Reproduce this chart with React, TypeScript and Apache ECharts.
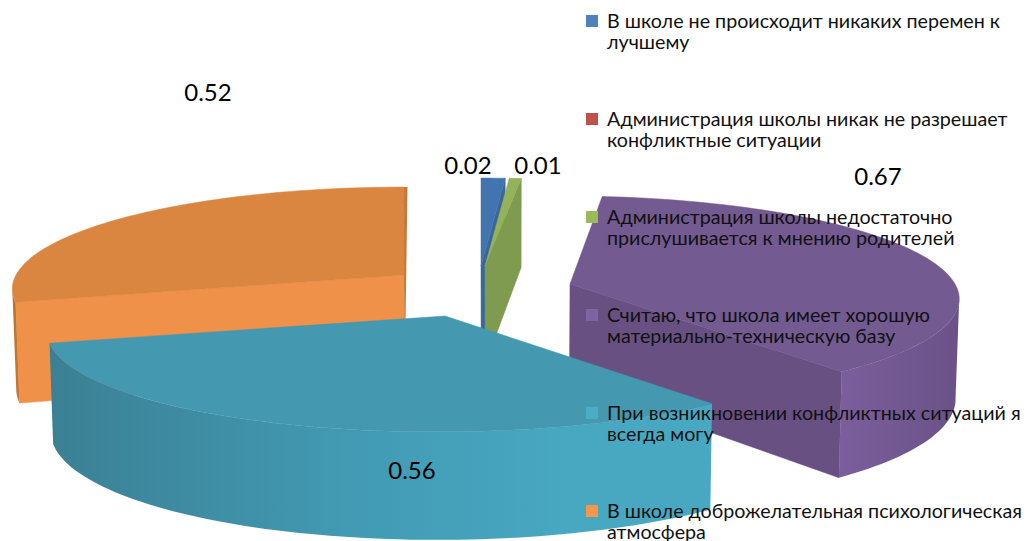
import React, { useEffect, useRef } from "react";
import * as echarts from "echarts";

const categories = [
  "В школе не происходит никаких перемен к\nлучшему",
  "Администрация школы никак не разрешает\nконфликтные ситуации",
  "Администрация школы недостаточно\nприслушивается к мнению родителей",
  "Считаю, что школа имеет хорошую\nматериально-техническую базу",
  "При возникновении конфликтных ситуаций я\nвсегда могу",
  "В школе доброжелательная психологическая\nатмосфера",
];
const values = [0.02, 0, 0.01, 0.67, 0.56, 0.52];
const legendColors = ["#4f81bd", "#c0504d", "#9bbb59", "#8064a2", "#4bacc6", "#f79646"];

// Layout of each exploded slice (not data)
const apexX = [481, 0, 485, 570, 445, 404];
const apexY = [266, 0, 266, 284, 316, 275];
const vanishX = [481, 0, 485, 540, 500, 404];
const radiusX = [390, 390, 390, 385, 393, 388];
const labelX = [468, 0, 538, 878, 412, 208];
const labelY = [164.5, 0, 164.5, 175, 469, 91];
const topFill = ["#4275af", "#c0504d", "#93b259", "#735a91", "#4498b0", "#da8540"];
const cutFill = ["#3a669c", "#a04340", "#7e9b50", "#685083", "#3c8296", "#f0914a"];
const rimFrom = ["#4275af", "#c0504d", "#93b259", "#7b5e9c", "#3b8094", "#b8722f"];
const rimTo = ["#4275af", "#c0504d", "#93b259", "#6a5287", "#48a8c2", "#c67a36"];
const drawOrder = [5, 3, 1, 0, 2, 4];

const RADIUS_Y = 100;
const PERSPECTIVE = 0.137;
const total = values.reduce((a, b) => a + b, 0);
const startAngles = values.map((_, i) =>
  (values.slice(0, i).reduce((a, b) => a + b, 0) / total) * 360
);
const endAngles = values.map((v, i) => startAngles[i] + (v / total) * 360);
const RIM_RIGHT = (Math.acos(-PERSPECTIVE) * 180) / Math.PI;
const RIM_LEFT = 360 - RIM_RIGHT;

function project(i: number, deg: number) {
  const t = (deg * Math.PI) / 180;
  const u = Math.sin(t);
  const v = -Math.cos(t);
  const s = 1 / (1 - PERSPECTIVE * v);
  return {
    x: vanishX[i] + (apexX[i] - vanishX[i] + radiusX[i] * u) * s,
    y: apexY[i] + RADIUS_Y * v * s,
    v,
  };
}
function lower(x: number, y: number, v: number): number[] {
  return [500 + (x - 500) * 0.992, y + 89 + 9.5 * (v + 1)];
}
function arcPoints(i: number, from: number, to: number) {
  const n = Math.max(2, Math.ceil((to - from) / 1.5));
  const pts = [];
  for (let k = 0; k <= n; k++) pts.push(project(i, from + ((to - from) * k) / n));
  return pts;
}
function cutFace(i: number, deg: number) {
  const p = project(i, deg);
  return {
    type: "polygon",
    shape: {
      points: [[p.x, p.y], [apexX[i], apexY[i]], lower(apexX[i], apexY[i], 0), lower(p.x, p.y, p.v)],
    },
    style: { fill: cutFill[i], stroke: cutFill[i], lineWidth: 0.5 },
  };
}

function makeRenderItem(i: number) {
  return (_params: any, api: any) => {
    const value = api.value(0);
    if (!value) return { type: "group", children: [] };
    const a0 = startAngles[i];
    const a1 = endAngles[i];
    const children: any[] = [];
    if (a0 > 180) children.push(cutFace(i, a0));
    if (a1 < 180) children.push(cutFace(i, a1));
    if (a1 > 359.9) {
      const p = project(i, 360);
      const q = lower(apexX[i], apexY[i], 0);
      children.push({
        type: "polygon",
        shape: { points: [[p.x, p.y], [p.x + 3.5, p.y], [q[0], q[1]], [apexX[i], apexY[i]]] },
        style: { fill: "#c47a36" },
      });
    }
    const r0 = Math.max(a0, RIM_RIGHT);
    const r1 = Math.min(a1, RIM_LEFT);
    if (r1 > r0) {
      const upper = arcPoints(i, r0, r1);
      const pts = upper.map((p) => [p.x, p.y]);
      const bottom = upper.map((p) => lower(p.x, p.y, p.v)).reverse();
      const stops =
        i === 4
          ? [
              { offset: 0, color: rimFrom[i] },
              { offset: 0.45, color: "#429ab3" },
              { offset: 0.8, color: rimTo[i] },
              { offset: 1, color: rimTo[i] },
            ]
          : [
              { offset: 0, color: rimFrom[i] },
              { offset: 1, color: rimTo[i] },
            ];
      children.push({
        type: "polygon",
        shape: { points: pts.concat(bottom) },
        style: { fill: new echarts.graphic.LinearGradient(0, 0, 1, 0, stops) },
      });
    }
    const top = arcPoints(i, a0, a1).map((p) => [p.x, p.y]);
    top.push([apexX[i], apexY[i]]);
    children.push({
      type: "polygon",
      shape: { points: top },
      style: { fill: topFill[i], stroke: topFill[i], lineWidth: 0.5 },
    });
    children.push({
      type: "text",
      x: labelX[i],
      y: labelY[i],
      style: {
        text: String(value),
        fill: "#000",
        font: '24px Lato, "Noto Sans", sans-serif',
        align: "center",
        verticalAlign: "middle",
      },
    });
    return { type: "group", children };
  };
}

export default function App() {
  const ref = useRef<HTMLDivElement>(null);
  useEffect(() => {
    const chart = echarts.init(ref.current!, undefined, { renderer: "svg" });
    chart.setOption({
      animation: false,
      backgroundColor: "#ffffff",
      legend: {
        orient: "vertical",
        left: 586,
        top: 10,
        padding: 0,
        height: 620,
        z: 10,
        itemGap: 56,
        itemWidth: 16,
        itemHeight: 32,
        icon: "path://M0 0H12V12H0Z M16 32H16Z",
        selectedMode: false,
        data: categories,
        textStyle: {
          fontFamily: 'Lato, "Noto Sans", sans-serif',
          fontSize: 19.7,
          lineHeight: 21,
          color: "#111",
        },
      },
      series: drawOrder.map((i, order) => ({
        type: "custom",
        name: categories[i],
        coordinateSystem: "none",
        silent: true,
        z: 2 + order,
        itemStyle: { color: legendColors[i] },
        data: [[values[i]]],
        renderItem: makeRenderItem(i),
      })),
    });
    return () => chart.dispose();
  }, []);
  return <div ref={ref} style={{ position: "fixed", left: 0, top: 0, width: 1034, height: 541 }} />;
}
